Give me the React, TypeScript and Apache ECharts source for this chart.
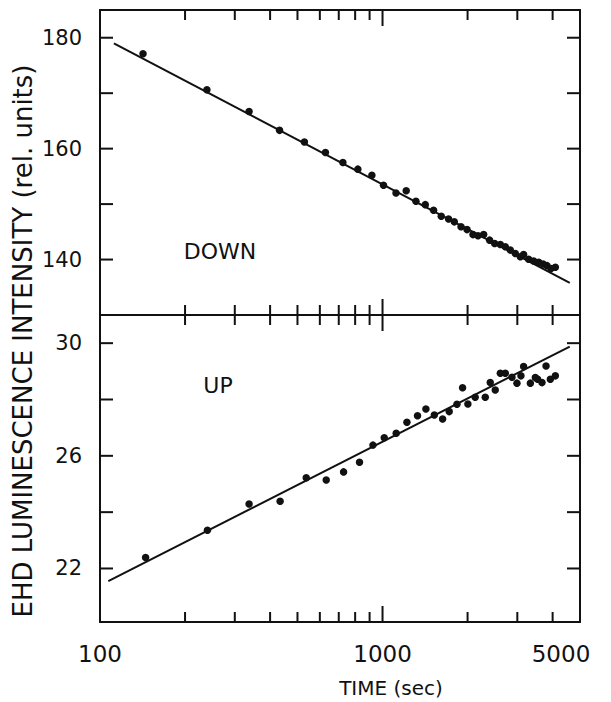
import React, { useEffect, useRef } from "react";
import * as echarts from "echarts";

// Luminescence readings, field-down run
const downTime = [142, 239, 337, 432, 529, 628, 724, 818, 917, 1008, 1116, 1213, 1313, 1417, 1516, 1614, 1713, 1795, 1896, 1991, 2090, 2177, 2280, 2394, 2494, 2612, 2720, 2833, 2951, 3074, 3158, 3290, 3427, 3570, 3700, 3822, 3948, 4090];
const downIntensity = [177.1, 170.6, 166.7, 163.3, 161.2, 159.3, 157.5, 156.3, 155.2, 153.4, 152.0, 152.4, 150.5, 149.9, 148.9, 147.8, 147.3, 146.8, 145.9, 145.4, 144.5, 144.3, 144.5, 143.5, 142.9, 142.7, 142.3, 141.7, 141.1, 140.5, 140.9, 140.05, 139.75, 139.5, 139.2, 138.9, 138.4, 138.6];

// Luminescence readings, field-up run
const upTime = [145, 240, 337, 434, 537, 632, 728, 829, 925, 1014, 1118, 1220, 1330, 1424, 1525, 1632, 1722, 1834, 1920, 2005, 2128, 2310, 2406, 2506, 2612, 2720, 2872, 2991, 3090, 3158, 3336, 3474, 3540, 3668, 3791, 3926, 4090];
const upIntensity = [22.39, 23.36, 24.29, 24.39, 25.22, 25.14, 25.43, 25.77, 26.38, 26.64, 26.8, 27.19, 27.42, 27.66, 27.45, 27.31, 27.57, 27.83, 28.42, 27.84, 28.08, 28.08, 28.6, 28.34, 28.93, 28.93, 28.79, 28.58, 28.84, 29.17, 28.58, 28.78, 28.72, 28.6, 29.19, 28.72, 28.84];

// Straight-line fits against log time
const downFitTime = [112, 4600];
const downFitIntensity = [179.0, 135.8];
const upFitTime = [107, 4600];
const upFitIntensity = [21.55, 29.88];

// Axis ticks and labels
const minorTimeTicks = [200, 300, 400, 500, 600, 700, 800, 900, 2000, 3000, 4000];
const majorTimeTicks = [1000];
const timeLabels = [100, 1000, 5000];
const downTicks = [140, 150, 160, 170, 180];
const downLabels = [140, 160, 180];
const upTicks = [22, 24, 26, 28, 30];
const upLabels = [22, 26, 30];

const FONT = "DejaVu Sans";
const INK = "#111";
const MINOR_LEN = 10;
const MAJOR_LEN = 16;
const Y_TICK_LEN = 13;
const T_MIN = 100;
const T_MAX = 5000;

function timeAxis(gridIndex: number, position: "top" | "bottom", labels?: number[]) {
  return {
    type: "log",
    logBase: 10,
    gridIndex,
    position,
    min: T_MIN,
    max: T_MAX,
    axisLine: { show: true, onZero: false, lineStyle: { color: INK, width: 2 } },
    axisTick: { show: false },
    axisLabel: labels
      ? {
          show: true,
          customValues: labels,
          margin: 20,
          color: INK,
          fontFamily: FONT,
          fontSize: 23,
          formatter: (v: number) => (v === 5000 ? "{r|5000}" : String(v)),
          rich: { r: { fontFamily: FONT, fontSize: 23, color: INK, padding: [0, 38, 0, 0] } },
        }
      : { show: false },
    splitLine: { show: false },
    minorTick: { show: false },
  };
}

function valueAxis(gridIndex: number, position: "left" | "right", min: number, max: number, labels?: number[]) {
  return {
    type: "value",
    gridIndex,
    position,
    min,
    max,
    axisLine: { show: true, onZero: false, lineStyle: { color: INK, width: 2 } },
    axisTick: { show: false },
    axisLabel: labels
      ? { show: true, customValues: labels, margin: 18, color: INK, fontFamily: FONT, fontSize: 21 }
      : { show: false },
    splitLine: { show: false },
  };
}

// Inward time ticks on the top and bottom edges of a panel
function timeTickSeries(xAxisIndex: number, yAxisIndex: number) {
  return {
    type: "custom",
    xAxisIndex,
    yAxisIndex,
    clip: false,
    silent: true,
    z: 5,
    encode: { x: 0 },
    data: [...minorTimeTicks, ...majorTimeTicks].map((t) => [t]),
    renderItem: (params: any, api: any) => {
      const t = api.value(0);
      const cs = params.coordSys;
      const x = api.coord([t, 0])[0];
      const len = majorTimeTicks.includes(t) ? MAJOR_LEN : MINOR_LEN;
      const top = cs.y;
      const bottom = cs.y + cs.height;
      return {
        type: "group",
        children: [
          { type: "line", shape: { x1: x, y1: bottom, x2: x, y2: bottom - len }, style: { stroke: INK, lineWidth: 2 } },
          { type: "line", shape: { x1: x, y1: top, x2: x, y2: top + len }, style: { stroke: INK, lineWidth: 2 } },
        ],
      };
    },
  };
}

// Inward intensity ticks on one side edge of a panel, drawn as thin bars anchored at the edge
function sideTickSeries(xAxisIndex: number, yAxisIndex: number, ticks: number[], side: "left" | "right") {
  const edge = side === "left" ? T_MIN : T_MAX;
  const shift = side === "left" ? Y_TICK_LEN / 2 : -Y_TICK_LEN / 2;
  return {
    type: "scatter",
    xAxisIndex,
    yAxisIndex,
    clip: false,
    silent: true,
    z: 6,
    symbol: "rect",
    symbolSize: [Y_TICK_LEN, 2],
    symbolOffset: [shift, 0],
    itemStyle: { color: INK, opacity: 1 },
    data: ticks.map((v) => [edge, v]),
  };
}

export default function App() {
  const ref = useRef<HTMLDivElement>(null);

  useEffect(() => {
    if (!ref.current) return;
    const chart = echarts.init(ref.current, undefined, { renderer: "svg" });
    chart.setOption({
      animation: false,
      backgroundColor: "#fff",
      grid: [
        { left: 100, right: 31, top: 10, height: 305 },
        { left: 100, right: 31, top: 315, height: 307 },
      ],
      xAxis: [
        timeAxis(0, "bottom"),
        timeAxis(0, "top"),
        timeAxis(1, "bottom", timeLabels),
        timeAxis(1, "top"),
      ],
      yAxis: [
        valueAxis(0, "left", 130, 185, downLabels),
        valueAxis(0, "right", 130, 185),
        valueAxis(1, "left", 20.1, 31, upLabels),
        valueAxis(1, "right", 20.1, 31),
      ],
      series: [
        timeTickSeries(0, 0),
        timeTickSeries(2, 2),
        sideTickSeries(0, 0, downTicks, "left"),
        sideTickSeries(0, 0, downTicks, "right"),
        sideTickSeries(2, 2, upTicks, "left"),
        sideTickSeries(2, 2, upTicks, "right"),
        {
          type: "line",
          xAxisIndex: 0,
          yAxisIndex: 0,
          data: downFitTime.map((t, i) => [t, downFitIntensity[i]]),
          showSymbol: false,
          lineStyle: { color: INK, width: 2 },
          z: 3,
        },
        {
          type: "scatter",
          xAxisIndex: 0,
          yAxisIndex: 0,
          data: downTime.map((t, i) => [t, downIntensity[i]]),
          symbolSize: 7.5,
          itemStyle: { color: INK, opacity: 1 },
          z: 4,
        },
        {
          type: "line",
          xAxisIndex: 2,
          yAxisIndex: 2,
          data: upFitTime.map((t, i) => [t, upFitIntensity[i]]),
          showSymbol: false,
          lineStyle: { color: INK, width: 2 },
          z: 3,
        },
        {
          type: "scatter",
          xAxisIndex: 2,
          yAxisIndex: 2,
          data: upTime.map((t, i) => [t, upIntensity[i]]),
          symbolSize: 7.5,
          itemStyle: { color: INK, opacity: 1 },
          z: 4,
        },
      ],
      graphic: [
        {
          type: "text",
          x: 23,
          y: 341,
          rotation: Math.PI / 2,
          style: { text: "EHD LUMINESCENCE INTENSITY (rel. units)", fontFamily: FONT, fontSize: 26, fill: INK, align: "center", verticalAlign: "middle" },
        },
        {
          type: "text",
          x: 220,
          y: 251,
          style: { text: "DOWN", fontFamily: FONT, fontSize: 22, fill: INK, align: "center", verticalAlign: "middle" },
        },
        {
          type: "text",
          x: 218,
          y: 385,
          style: { text: "UP", fontFamily: FONT, fontSize: 22, fill: INK, align: "center", verticalAlign: "middle" },
        },
        {
          type: "text",
          x: 391,
          y: 688,
          style: { text: "TIME (sec)", fontFamily: FONT, fontSize: 20, fill: INK, align: "center", verticalAlign: "middle" },
        },
      ],
    });
    return () => chart.dispose();
  }, []);

  return <div ref={ref} style={{ position: "fixed", left: 0, top: 0, width: 611, height: 702 }} />;
}
